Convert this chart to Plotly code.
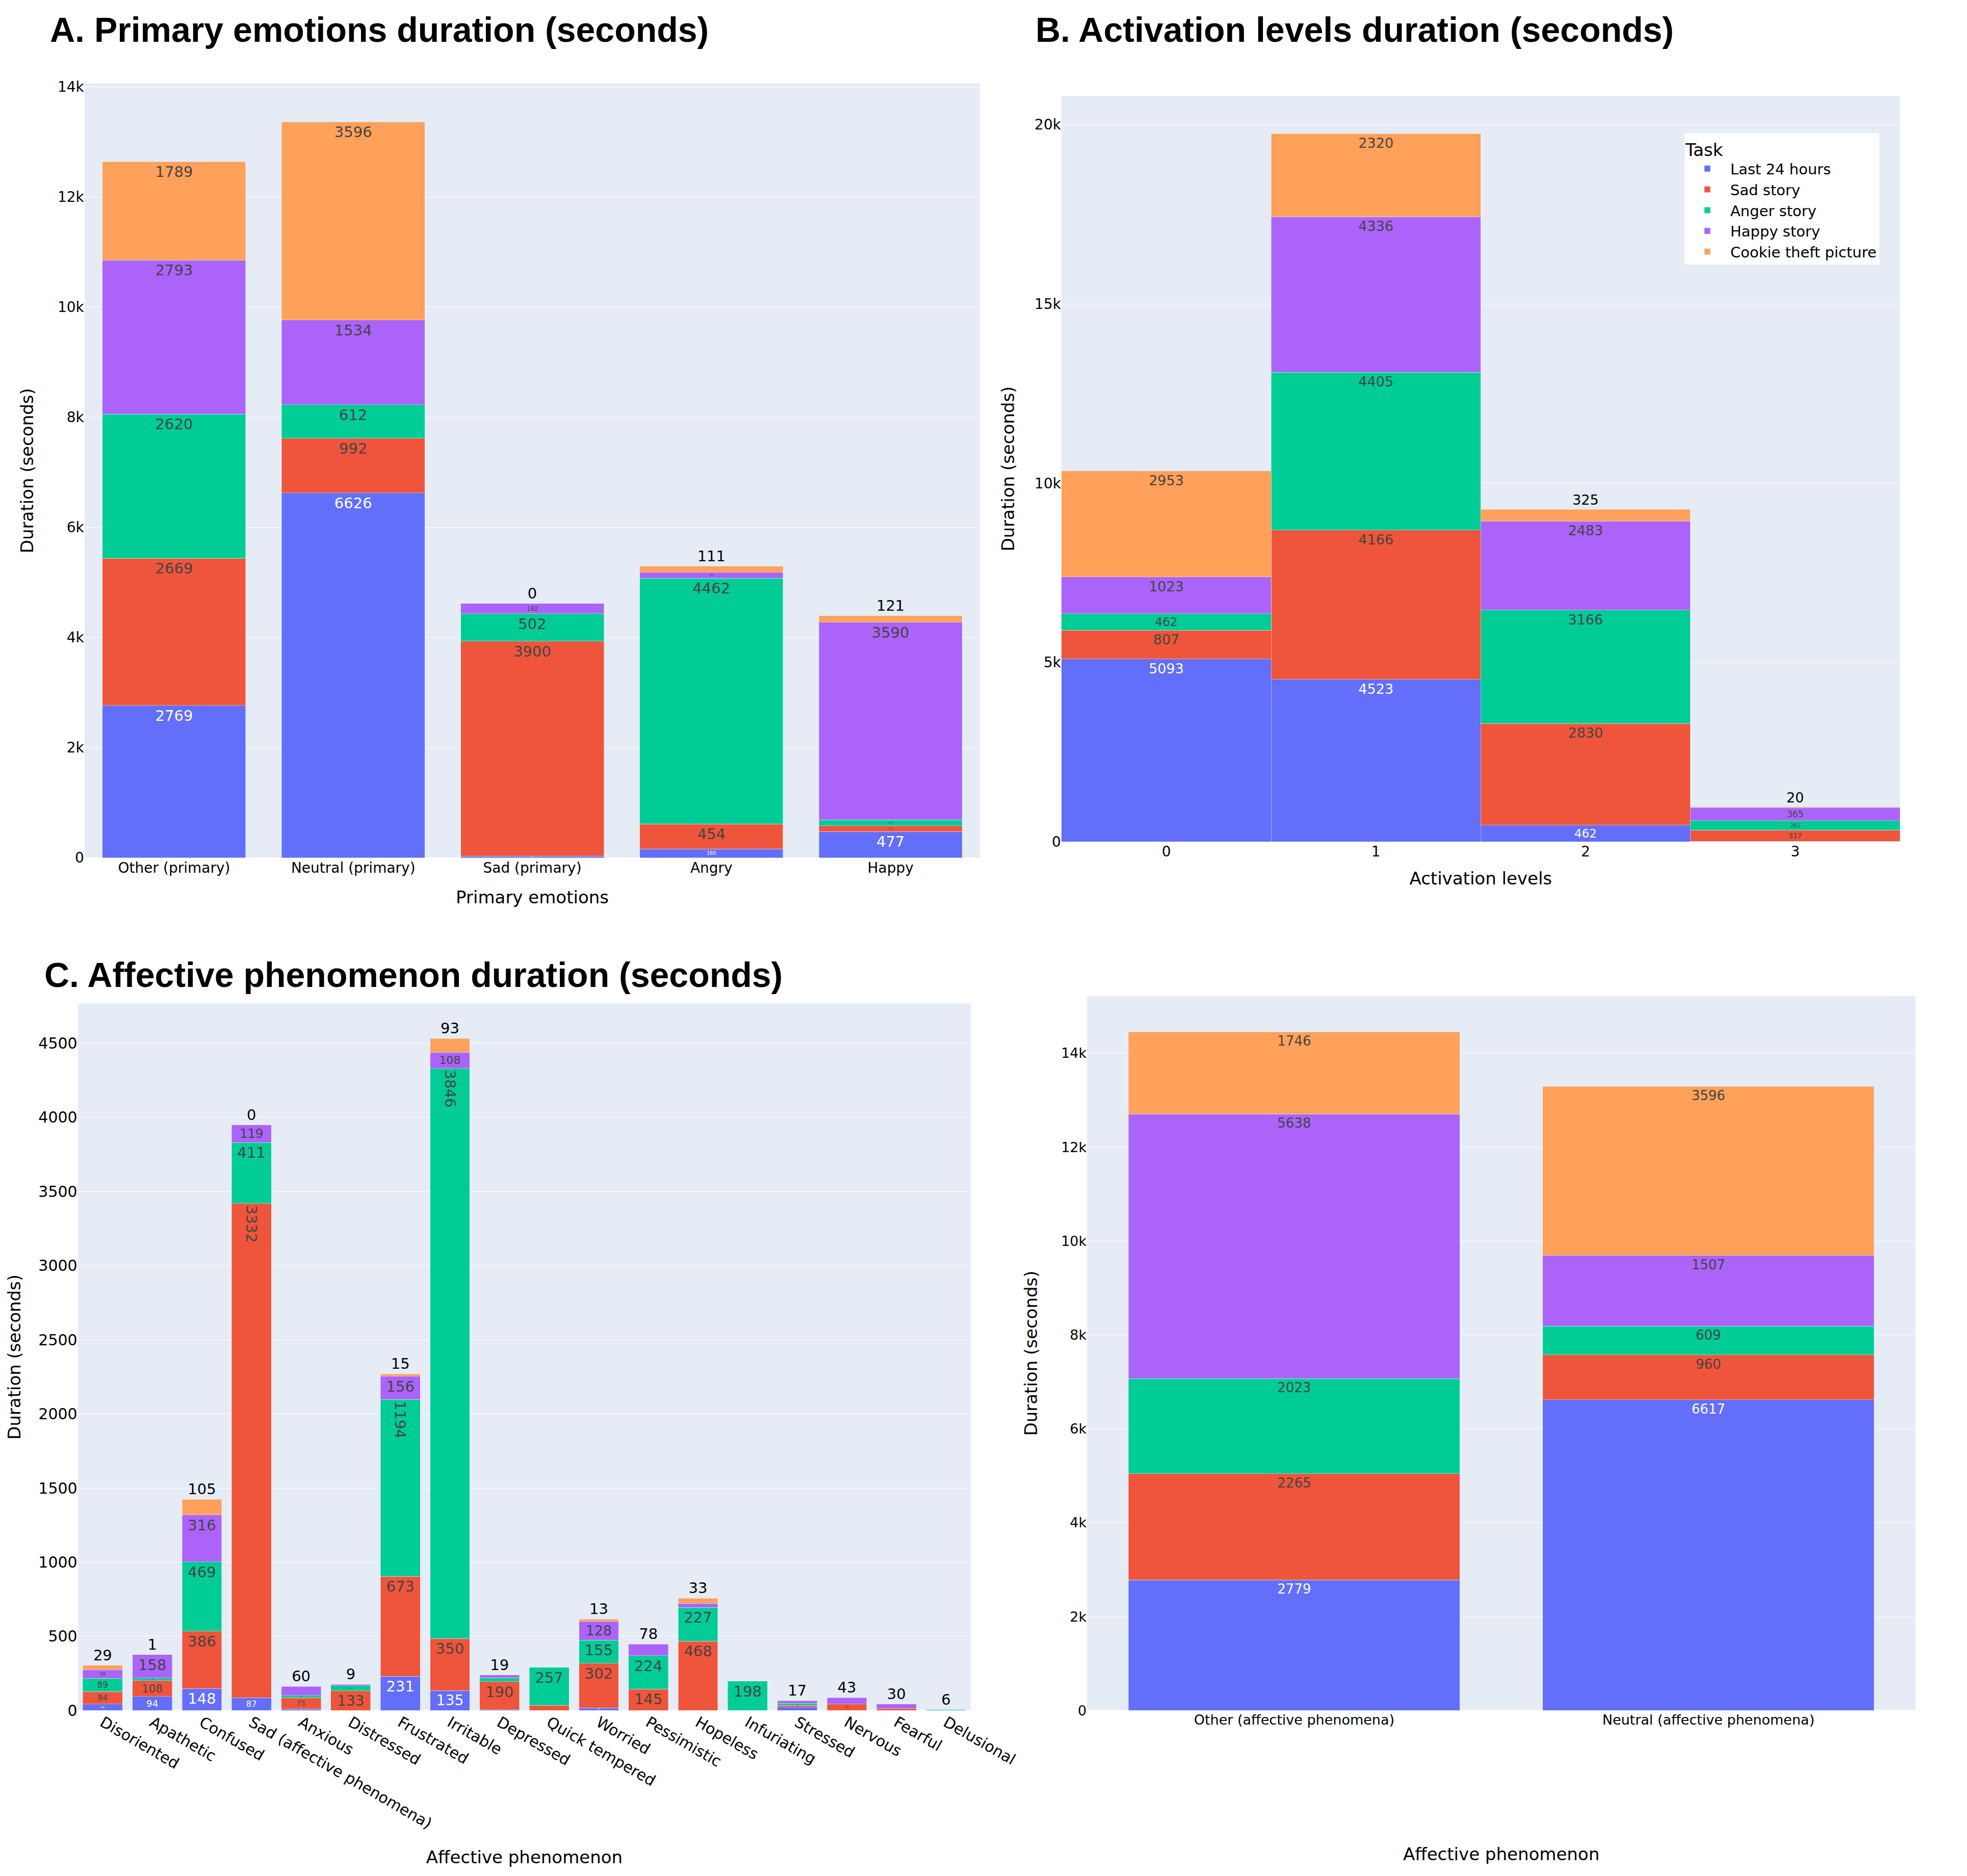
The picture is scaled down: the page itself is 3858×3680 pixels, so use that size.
import plotly.graph_objects as go

# tasks (stack order, bottom to top) and their colours
tasks = ["Last 24 hours", "Sad story", "Anger story", "Happy story", "Cookie theft picture"]
colors = ["#636EFA", "#EF553B", "#00CC96", "#AB63FA", "#FFA15A"]

# A. primary emotions
primary_cats = ["Other (primary)", "Neutral (primary)", "Sad (primary)", "Angry", "Happy"]
primary_last24 = [2769, 6626, 33, 160, 477]
primary_sad = [2669, 992, 3900, 454, 105]
primary_anger = [2620, 612, 502, 4462, 105]
primary_happy = [2793, 1534, 182, 106, 3590]
primary_cookie = [1789, 3596, 0.4, 111, 121]

# B. activation levels
activation_levels = [0, 1, 2, 3]
activation_last24 = [5093, 4523, 462, 8]
activation_sad = [807, 4166, 2830, 317]
activation_anger = [462, 4405, 3166, 261]
activation_happy = [1023, 4336, 2483, 365]
activation_cookie = [2953, 2320, 325, 20]

# C. affective phenomena (None = task not present for that phenomenon)
affect_cats = ["Disoriented", "Apathetic", "Confused", "Sad (affective phenomena)", "Anxious",
               "Distressed", "Frustrated", "Irritable", "Depressed", "Quick tempered", "Worried",
               "Pessimistic", "Hopeless", "Infuriating", "Stressed", "Nervous", "Fearful", "Delusional"]
affect_last24 = [43, 94, 148, 87, 11, None, 231, 135, 5, None, 17, None, None, None, 22, None, None, None]
affect_sad = [84, 108, 386, 3332, 75, 133, 673, 350, 190, 34, 302, 145, 468, None, 13, 44, 14, None]
affect_anger = [89, 16, 469, 411, 16, 34, 1194, 3846, 26, 257, 155, 224, 227, 198, 14, None, None, 6]
affect_happy = [59, 158, 316, 119, 60, 9, 156, 108, 19, None, 128, 78, 28, None, 17, 43, 30, None]
affect_cookie = [29, 1, 105, 0.4, None, None, 15, 93, None, None, 13, None, 33, None, None, None, None, None]

# D. other / neutral affective phenomena
other_cats = ["Other (affective phenomena)", "Neutral (affective phenomena)"]
other_last24 = [2779, 6617]
other_sad = [2265, 960]
other_anger = [2023, 609]
other_happy = [5638, 1507]
other_cookie = [1746, 3596]

FONT = "DejaVu Sans"
fig = go.Figure()

panels = [
    ("x", "y", primary_cats, [primary_last24, primary_sad, primary_anger, primary_happy, primary_cookie], 29, None, False),
    ("x2", "y2", activation_levels, [activation_last24, activation_sad, activation_anger, activation_happy, activation_cookie], 27, 1, True),
    ("x3", "y3", affect_cats, [affect_last24, affect_sad, affect_anger, affect_happy, affect_cookie], 29, None, False),
    ("x4", "y4", other_cats, [other_last24, other_sad, other_anger, other_happy, other_cookie], 26, None, False),
]

for xa, ya, cats, series, tsize, width, show_legend in panels:
    for name, color, vals in zip(tasks, colors, series):
        fig.add_trace(go.Bar(
            x=cats, y=vals, name=name, marker_color=color,
            xaxis=xa, yaxis=ya, width=width,
            texttemplate="%{y:.0f}", textposition="auto",
            textfont=dict(size=tsize, family=FONT),
            legendgroup=name, showlegend=show_legend,
        ))

axis_common = dict(gridcolor="white", zerolinecolor="white", tickfont=dict(family=FONT, color="black"))
title_font = dict(family=FONT, size=34, color="black")

fig.update_layout(
    width=3842, height=3664,
    margin=dict(l=0, r=0, t=0, b=0),
    barmode="stack",
    plot_bgcolor="#E5ECF6", paper_bgcolor="white",
    font=dict(family=FONT, size=29, color="black"),
    showlegend=True,
    legend=dict(
        title=dict(text="Task", font=dict(size=34, family=FONT, color="black")),
        font=dict(size=29, family=FONT, color="black"),
        traceorder="normal", bgcolor="white",
        itemwidth=80, tracegroupgap=15,
        x=0.981, xanchor="right", y=0.9331, yanchor="top",
    ),
    xaxis=dict(domain=[0.0421, 0.5106], anchor="y", tickfont_size=28, showgrid=False,
               title=dict(text="Primary emotions", font=title_font, standoff=30)),
    yaxis=dict(domain=[0.5423, 0.9599], anchor="x", range=[0, 14060], dtick=2000, tickfont_size=28,
               title=dict(text="Duration (seconds)", font=title_font, standoff=37)),
    xaxis2=dict(domain=[0.5532, 0.9919], anchor="y2", range=[-0.5, 3.5], dtick=1, tickfont_size=28,
                showgrid=False, zeroline=False,
                title=dict(text="Activation levels", font=title_font, standoff=25)),
    yaxis2=dict(domain=[0.5510, 0.9532], anchor="x2", range=[0, 20800], dtick=5000, tickfont_size=28,
                title=dict(text="Duration (seconds)", font=title_font, standoff=29)),
    xaxis3=dict(domain=[0.0386, 0.5058], anchor="y3", tickangle=30, tickfont_size=30, showgrid=False,
                title=dict(text="Affective phenomenon", font=title_font, standoff=37)),
    yaxis3=dict(domain=[0.0824, 0.4637], anchor="x3", range=[0, 4768], dtick=500, tickfont_size=30,
                title=dict(text="Duration (seconds)", font=title_font, standoff=34)),
    xaxis4=dict(domain=[0.5666, 1.0], anchor="y4", tickfont_size=27, showgrid=False,
                title=dict(text="Affective phenomenon", font=title_font, standoff=236)),
    yaxis4=dict(domain=[0.0824, 0.4678], anchor="x4", range=[0, 15220], dtick=2000, tickfont_size=27,
                title=dict(text="Duration (seconds)", font=title_font, standoff=36)),
)
for ax in ["xaxis", "yaxis", "xaxis2", "yaxis2", "xaxis3", "yaxis3", "xaxis4", "yaxis4"]:
    fig.layout[ax].update(**axis_common)

panel_titles = [
    ("A. Primary emotions duration (seconds)", 0.0235, 1.0, "top"),
    ("B. Activation levels duration (seconds)", 0.539, 1.0, "top"),
    ("C. Affective phenomenon duration (seconds)", 0.0206, 0.4793, "middle"),
]
for text, x, y, anchor in panel_titles:
    fig.add_annotation(text="<b>%s</b>" % text, xref="paper", yref="paper", x=x, y=y,
                       xanchor="left", yanchor=anchor, showarrow=False,
                       font=dict(family="Liberation Sans", size=68, color="black"))

fig.write_html("out.html")
